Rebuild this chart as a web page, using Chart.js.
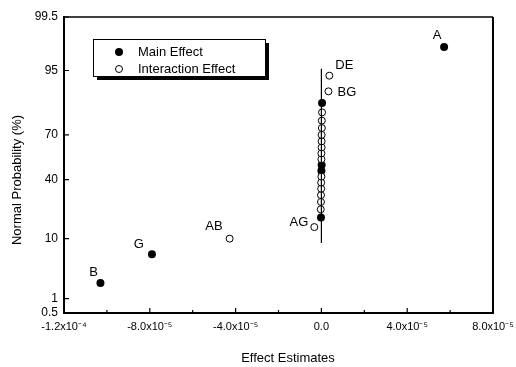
<!DOCTYPE html>
<html>
<head>
<meta charset="utf-8">
<script src="https://cdn.jsdelivr.net/npm/chart.js@4.4.1/dist/chart.umd.min.js"></script>
<style>
  body { margin: 0; background: #fff; }
  #wrap { width: 516px; height: 367px; }
</style>
</head>
<body>
<div id="wrap"><canvas id="npp" width="516" height="367"></canvas></div>
<script>
// main effects (filled)
const mainNames = ['B', 'G', '', '', '', '', 'A'];
const mainX = [-1.03e-4, -7.9e-5, -2e-7, 0, 1e-7, 3e-7, 5.72e-5];
const mainProb = [2, 6, 18, 46, 50, 86, 98];

// interaction effects (open)
const interNames = ['AB', 'AG', '', '', '', '', '', '', '', '', '', '', '', '', '', '', 'BG', 'DE'];
const interX = [-4.28e-5, -3.3e-6, -3e-7, -2e-7, -2e-7, -1e-7, -1e-7, 0, 0, 0, 1e-7, 1e-7, 1e-7, 2e-7, 2e-7, 3e-7, 3.3e-6, 3.7e-6];
const interProb = [10, 14, 22, 26, 30, 34, 38, 42, 54, 58, 62, 66, 70, 74, 78, 82, 90, 94];

// reference line
const refX = [0, 0];
const refProb = [8.7, 95.3];

const probTicks = [0.5, 1, 10, 40, 70, 95, 99.5];
const probTickLabels = ['0.5', '1', '10', '40', '70', '95', '99.5'];
const xTicks = [-1.2e-4, -8e-5, -4e-5, 0, 4e-5, 8e-5];
const xMinorTicks = [-1e-4, -6e-5, -2e-5, 2e-5, 6e-5];
const xTickLabels = ['-1.2x10⁻⁴', '-8.0x10⁻⁵', '-4.0x10⁻⁵', '0.0', '4.0x10⁻⁵', '8.0x10⁻⁵'];

const FONT = '"Liberation Sans", Arial, sans-serif';

// inverse standard normal cdf (Acklam)
function normInv(p) {
  const a = [-3.969683028665376e+01, 2.209460984245205e+02, -2.759285104469687e+02, 1.383577518672690e+02, -3.066479806614716e+01, 2.506628277459239e+00];
  const b = [-5.447609879822406e+01, 1.615858368580409e+02, -1.556989798598866e+02, 6.680131188771972e+01, -1.328068155288572e+01];
  const c = [-7.784894002430293e-03, -3.223964580411365e-01, -2.400758277161838e+00, -2.549732539343734e+00, 4.374664141464968e+00, 2.938163982698783e+00];
  const d = [7.784695709041462e-03, 3.224671290700398e-01, 2.445134137142996e+00, 3.754408661907416e+00];
  const plow = 0.02425;
  let q, r;
  if (p < plow) {
    q = Math.sqrt(-2 * Math.log(p));
    return (((((c[0]*q+c[1])*q+c[2])*q+c[3])*q+c[4])*q+c[5]) / ((((d[0]*q+d[1])*q+d[2])*q+d[3])*q+1);
  }
  if (p <= 1 - plow) {
    q = p - 0.5; r = q * q;
    return (((((a[0]*r+a[1])*r+a[2])*r+a[3])*r+a[4])*r+a[5])*q / (((((b[0]*r+b[1])*r+b[2])*r+b[3])*r+b[4])*r+1);
  }
  q = Math.sqrt(-2 * Math.log(1 - p));
  return -(((((c[0]*q+c[1])*q+c[2])*q+c[3])*q+c[4])*q+c[5]) / ((((d[0]*q+d[1])*q+d[2])*q+d[3])*q+1);
}

const z = pct => normInv(pct / 100);
const toPoints = (xs, ps) => xs.map((x, i) => ({ x, y: z(ps[i]) }));

const labelOffsets = {
  A: [-7, -12, 'center'],
  DE: [6, -10, 'left'],
  BG: [9, 1, 'left'],
  AB: [-7, -12, 'right'],
  AG: [-6, -5, 'right'],
  G: [-8, -10, 'right'],
  B: [-7, -11, 'center'],
};

const extras = {
  id: 'extras',
  afterDraw(chart) {
    const ctx = chart.ctx;
    const area = chart.chartArea;
    const xs = chart.scales.x, ys = chart.scales.y;
    ctx.save();
    ctx.strokeStyle = '#000';
    // top and right frame
    ctx.lineWidth = 1.5;
    ctx.beginPath();
    ctx.moveTo(area.left, area.top);
    ctx.lineTo(area.right, area.top);
    ctx.stroke();
    ctx.lineWidth = 2;
    ctx.beginPath();
    ctx.moveTo(area.right, area.top);
    ctx.lineTo(area.right, area.bottom);
    ctx.stroke();
    // inward ticks
    ctx.lineWidth = 1.2;
    ctx.beginPath();
    xTicks.forEach(v => {
      const px = xs.getPixelForValue(v);
      ctx.moveTo(px, area.bottom); ctx.lineTo(px, area.bottom - 5);
    });
    xMinorTicks.forEach(v => {
      const px = xs.getPixelForValue(v);
      ctx.moveTo(px, area.bottom); ctx.lineTo(px, area.bottom - 3);
    });
    probTicks.forEach(p => {
      const py = ys.getPixelForValue(z(p));
      ctx.moveTo(area.left, py); ctx.lineTo(area.left + 5, py);
    });
    ctx.stroke();

    // point labels
    ctx.fillStyle = '#000';
    ctx.font = '13px ' + FONT;
    ctx.textBaseline = 'middle';
    const drawNames = (dsIndex, names) => {
      const meta = chart.getDatasetMeta(dsIndex);
      names.forEach((n, i) => {
        if (!n) return;
        const el = meta.data[i];
        const off = labelOffsets[n];
        ctx.textAlign = off[2];
        ctx.fillText(n, el.x + off[0], el.y + off[1]);
      });
    };
    drawNames(1, mainNames);
    drawNames(2, interNames);

    // legend box
    const lx = 93, ly = 39, lw = 172, lh = 37;
    ctx.fillRect(lx + 4, ly + 4, lw, lh);
    ctx.fillStyle = '#fff';
    ctx.fillRect(lx, ly, lw, lh);
    ctx.lineWidth = 1;
    ctx.strokeRect(lx + 0.5, ly + 0.5, lw, lh);
    ctx.fillStyle = '#000';
    ctx.beginPath();
    ctx.arc(119, 52, 4, 0, Math.PI * 2);
    ctx.fill();
    ctx.beginPath();
    ctx.arc(119, 69, 3.5, 0, Math.PI * 2);
    ctx.stroke();
    ctx.textAlign = 'left';
    ctx.fillText('Main Effect', 138, 52);
    ctx.fillText('Interaction Effect', 138, 69);

    // axis titles
    ctx.textAlign = 'center';
    ctx.fillText('Effect Estimates', 288, 358);
    ctx.translate(17, 180);
    ctx.rotate(-Math.PI / 2);
    ctx.fillText('Normal Probability (%)', 0, 0);
    ctx.restore();
  }
};

new Chart(document.getElementById('npp'), {
  type: 'scatter',
  data: {
    datasets: [
      {
        type: 'line',
        data: toPoints(refX, refProb),
        borderColor: '#000',
        borderWidth: 1.2,
        pointRadius: 0,
        fill: false,
        order: 0,
      },
      {
        data: toPoints(mainX, mainProb),
        pointStyle: 'circle',
        pointRadius: 4,
        backgroundColor: '#000',
        borderColor: '#000',
        borderWidth: 0,
        order: 2,
      },
      {
        data: toPoints(interX, interProb),
        pointStyle: 'circle',
        pointRadius: 3.5,
        backgroundColor: '#fff',
        borderColor: '#000',
        borderWidth: 1,
        order: 1,
      },
    ],
  },
  options: {
    responsive: false,
    animation: false,
    layout: { padding: { left: 0, top: 17, right: 23, bottom: 0 } },
    plugins: { legend: { display: false }, tooltip: { enabled: false } },
    scales: {
      x: {
        type: 'linear',
        min: -1.2e-4,
        max: 8e-5,
        afterBuildTicks: s => { s.ticks = xTicks.map(v => ({ value: v })); },
        afterFit: s => { s.height = 54; s.paddingLeft = 0; s.paddingRight = 0; },
        grid: { display: false, drawTicks: false },
        border: { display: true, color: '#000', width: 2 },
        ticks: {
          autoSkip: false,
          maxRotation: 0,
          padding: 7,
          color: '#000',
          font: { family: FONT, size: 11 },
          callback: (v, i) => xTickLabels[i],
        },
      },
      y: {
        type: 'linear',
        min: z(0.5),
        max: z(99.5),
        afterBuildTicks: s => { s.ticks = probTicks.map(p => ({ value: z(p) })); },
        afterFit: s => { s.width = 64; s.paddingTop = 0; s.paddingBottom = 0; },
        grid: { display: false, drawTicks: false },
        border: { display: true, color: '#000', width: 2 },
        ticks: {
          autoSkip: false,
          padding: 6,
          color: '#000',
          font: { family: FONT, size: 12 },
          callback: (v, i) => probTickLabels[i],
        },
      },
    },
  },
  plugins: [extras],
});
</script>
</body>
</html>
